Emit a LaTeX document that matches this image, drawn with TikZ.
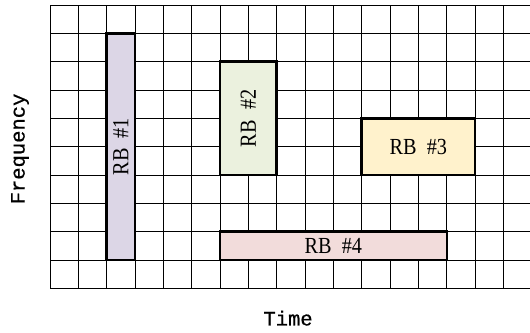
\documentclass[tikz,border=0pt]{standalone}
\usepackage{fontspec}
\setmainfont{Liberation Serif}
\newfontfamily\rbfont[FakeStretch=0.88]{Liberation Serif}
\newfontfamily\axisfont[FakeBold=0.6]{Liberation Mono}
\definecolor{rbA}{HTML}{DCD6E6}
\definecolor{rbB}{HTML}{EBF1DE}
\definecolor{rbC}{HTML}{FFF2CC}
\definecolor{rbD}{HTML}{F2DCDB}
\tikzset{
  gridline/.style={draw=black, line width=0.8pt},
  rbbox/.style={draw=black, line width=2.4pt, inner sep=0pt, font=\rbfont\fontsize{23}{26}\selectfont},
  rblabel/.style={rotate=90, inner sep=0pt, font=\rbfont\fontsize{23}{26}\selectfont},
  axislabel/.style={font=\axisfont\fontsize{20.5}{24}\selectfont, inner sep=0pt}
}
\begin{document}
\begin{tikzpicture}[x=28.333pt, y=28.333pt]
\useasboundingbox (-1.765,-1.541) rectangle (16.94,10.177);
% grid
\foreach \i in {0,...,16} \draw[gridline] (\i,0) -- (\i,10);
\foreach \j in {0,...,10} \draw[gridline] (0,\j) -- (16.94,\j);
% resource blocks
\node[rbbox, fill=rbA, minimum width=28.333pt, minimum height=226.67pt] (rb1) at (2.5,5) {};
\node[rblabel] (t1) at (rb1.center) {RB\ \ \#1};
\node[rbbox, fill=rbB, minimum width=56.667pt, minimum height=113.33pt] (rb2) at (7,6) {};
\node[rblabel] (t2) at (rb2.center) {RB\ \ \#2};
\node[rbbox, fill=rbC, minimum width=113.33pt, minimum height=56.667pt] (rb3) at (13,5) {RB\ \ \#3};
\node[rbbox, fill=rbD, minimum width=226.67pt, minimum height=28.333pt] (rb4) at (10,1.5) {RB\ \ \#4};
% axis labels
\node[axislabel, rotate=90] (freq) at (-1.06,4.92) {Frequency};
\node[axislabel] (time) at (8.4,-1.05) {Time};
\end{tikzpicture}
\end{document}
